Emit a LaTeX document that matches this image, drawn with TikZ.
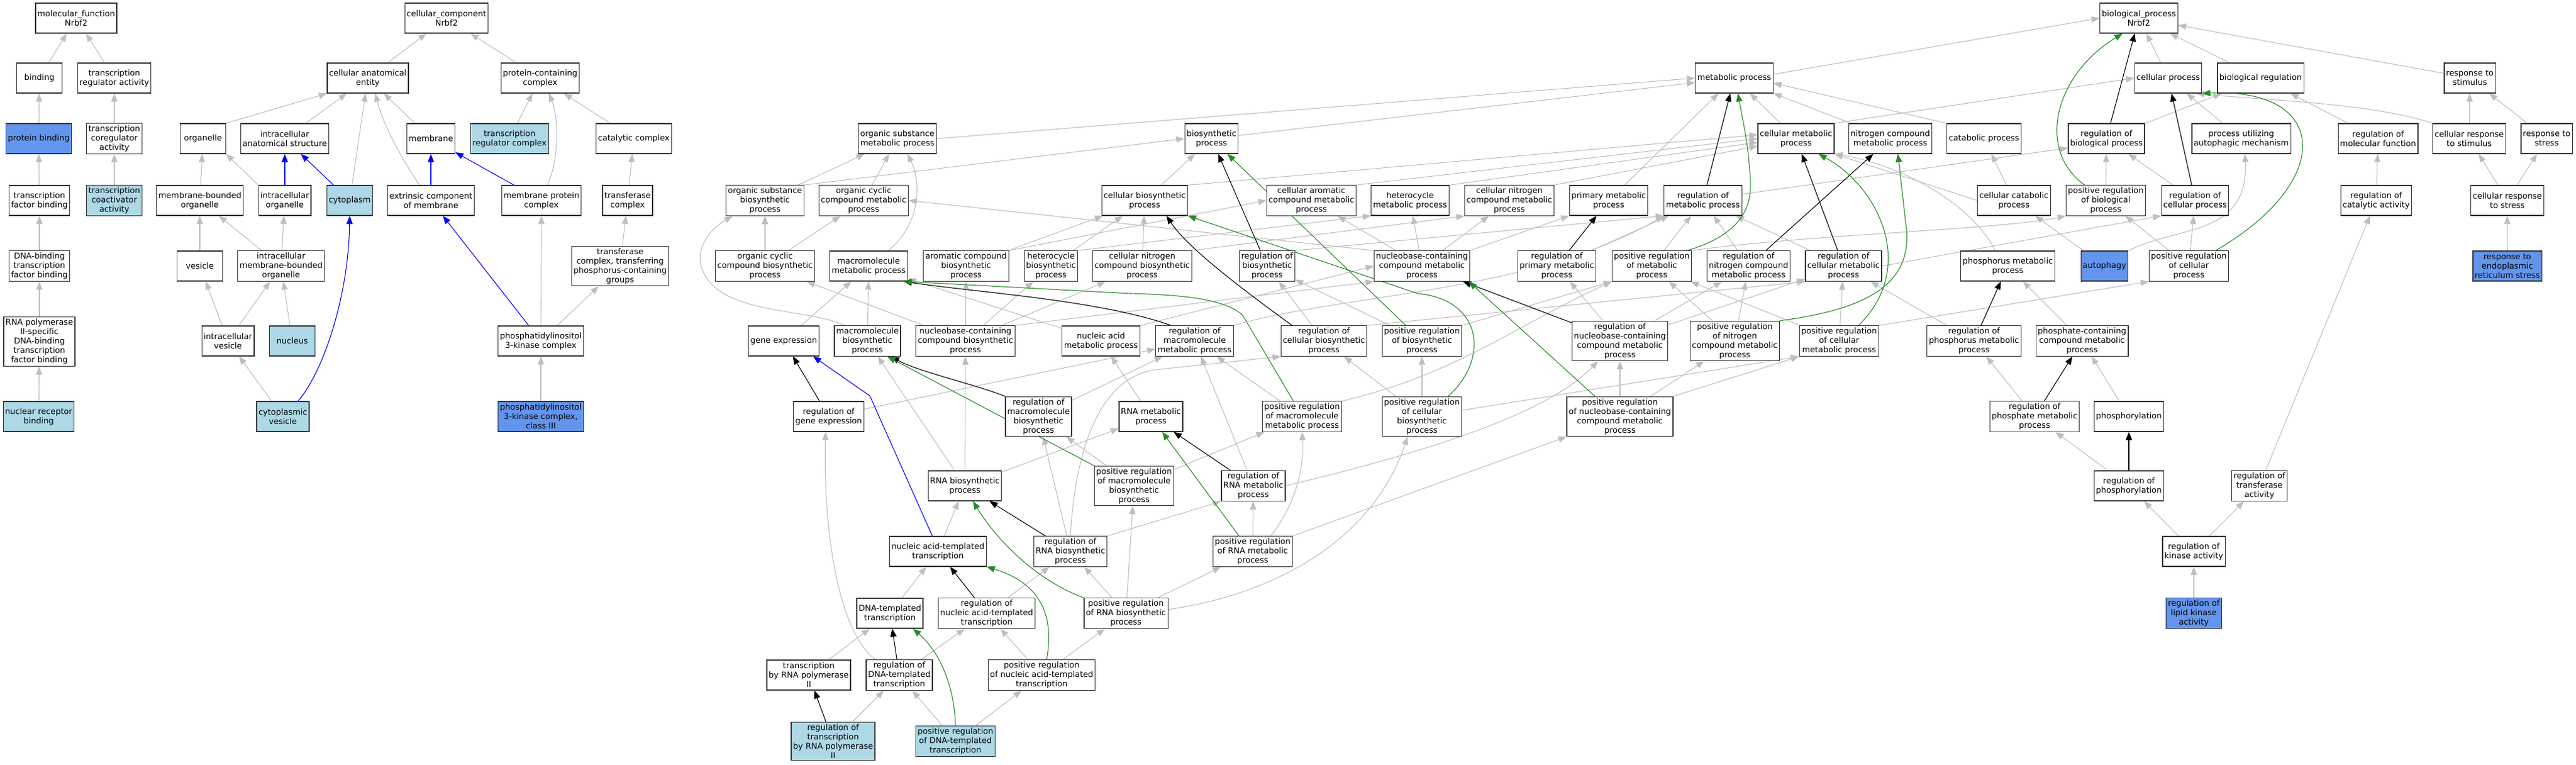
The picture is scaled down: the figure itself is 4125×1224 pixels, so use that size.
\documentclass[tikz,border=0pt]{standalone}
\usepackage{fontspec}
\setmainfont{DejaVu Sans}
\usetikzlibrary{arrows.meta}
\definecolor{gc}{HTML}{BEBEBE}
\definecolor{grc}{HTML}{228B22}
\definecolor{blc}{HTML}{0000FF}
\definecolor{lbc}{HTML}{ADD8E6}
\definecolor{cbc}{HTML}{6495ED}
\pgfdeclarelayer{bg}
\pgfsetlayers{bg,main}
\tikzset{
 gonode/.style={draw=black!80, line width=1.2pt, fill=white, align=center, inner xsep=3pt, inner ysep=3pt, minimum width=73pt, minimum height=48pt, font=\fontsize{13}{15}\selectfont},
 lbnode/.style={gonode, fill=lbc},
 cbnode/.style={gonode, fill=cbc},
 edg/.style={line width=1.1pt, -{Triangle[length=13pt,width=10pt]}},
 eg/.style={edg, draw=gc},
 ek/.style={edg, draw=black},
 egr/.style={edg, draw=grc},
 eb/.style={edg, draw=blc}
}
\begin{document}
\begin{tikzpicture}[x=1pt,y=-1pt]
\useasboundingbox (0,0) rectangle (4125,1224);
% ---------- molecular function
\node[gonode] (mf) at (122,29) {molecular\_function\\Nrbf2};
\node[gonode] (binding) at (63,125) {binding};
\node[gonode] (tra) at (183,125) {transcription\\regulator activity};
\node[cbnode] (pb) at (62,222) {protein binding};
\node[gonode] (tca) at (183,222) {transcription\\coregulator\\activity};
\node[gonode] (tfb) at (63,321) {transcription\\factor binding};
\node[lbnode] (tcoa) at (183,321) {transcription\\coactivator\\activity};
\node[gonode] (dbtfb) at (63,426) {DNA-binding\\transcription\\factor binding};
\node[gonode] (rnap2) at (63,547) {RNA polymerase\\II-specific\\DNA-binding\\transcription\\factor binding};
\node[lbnode] (nrb) at (62,667) {nuclear receptor\\binding};
% ---------- cellular component
\node[gonode] (cc) at (715,29) {cellular\_component\\Nrbf2};
\node[gonode] (cae) at (589,125) {cellular anatomical\\entity};
\node[gonode] (pcc) at (865,125) {protein-containing\\complex};
\node[gonode] (organelle) at (325,222) {organelle};
\node[gonode] (ias) at (456,222) {intracellular\\anatomical structure};
\node[gonode] (membrane) at (690,222) {membrane};
\node[lbnode] (trc) at (816,222) {transcription\\regulator complex};
\node[gonode] (catc) at (1015,222) {catalytic complex};
\node[gonode] (mbo) at (320,321) {membrane-bounded\\organelle};
\node[gonode] (io) at (456,321) {intracellular\\organelle};
\node[lbnode] (cytoplasm) at (560,321) {cytoplasm};
\node[gonode] (ecm) at (690,321) {extrinsic component\\of membrane};
\node[gonode] (mpc) at (867,321) {membrane protein\\complex};
\node[gonode] (tfc) at (1005,321) {transferase\\complex};
\node[gonode] (vesicle) at (320,426) {vesicle};
\node[gonode] (imbo) at (450,426) {intracellular\\membrane-bounded\\organelle};
\node[gonode] (tfcp) at (993,426) {transferase\\complex, transferring\\phosphorus-containing\\groups};
\node[gonode] (iv) at (365,546) {intracellular\\vesicle};
\node[lbnode] (nucleus) at (468,546) {nucleus};
\node[gonode] (pi3k) at (866,546) {phosphatidylinositol\\3-kinase complex};
\node[lbnode] (cv) at (453,667) {cytoplasmic\\vesicle};
\node[cbnode] (pi3k3) at (866,667) {phosphatidylinositol\\3-kinase complex,\\class III};
% ---------- biological process
\node[gonode] (bp) at (3425,29) {biological\_process\\Nrbf2};
\node[gonode] (mp) at (2777,125) {metabolic process};
\node[gonode] (cp) at (3472,125) {cellular process};
\node[gonode] (br) at (3620,125) {biological regulation};
\node[gonode] (rts) at (3955,125) {response to\\stimulus};
\node[gonode] (osmp) at (1437,222) {organic substance\\metabolic process};
\node[gonode] (bsp) at (1940,222) {biosynthetic\\process};
\node[gonode] (cmp) at (2876,222) {cellular metabolic\\process};
\node[gonode] (ncmp) at (3027,222) {nitrogen compound\\metabolic process};
\node[gonode] (catp) at (3177,222) {catabolic process};
\node[gonode] (rbp) at (3373,222) {regulation of\\biological process};
\node[gonode] (puam) at (3589,222) {process utilizing\\autophagic mechanism};
\node[gonode] (rmf) at (3808,222) {regulation of\\molecular function};
\node[gonode] (crs) at (3954,222) {cellular response\\to stimulus};
\node[gonode] (rtst) at (4078,222) {response to\\stress};
\node[gonode] (osbp) at (1225,321) {organic substance\\biosynthetic\\process};
\node[gonode] (occmp) at (1383,321) {organic cyclic\\compound metabolic\\process};
\node[gonode] (cbp) at (1833,321) {cellular biosynthetic\\process};
\node[gonode] (cacmp) at (2100,321) {cellular aromatic\\compound metabolic\\process};
\node[gonode] (hmp) at (2258,321) {heterocycle\\metabolic process};
\node[gonode] (cncmp) at (2417,321) {cellular nitrogen\\compound metabolic\\process};
\node[gonode] (pmp) at (2576,321) {primary metabolic\\process};
\node[gonode] (rmp) at (2727,321) {regulation of\\metabolic process};
\node[gonode] (ccatp) at (3225,321) {cellular catabolic\\process};
\node[gonode] (prbp) at (3372,321) {positive regulation\\of biological\\process};
\node[gonode] (rcp) at (3515,321) {regulation of\\cellular process};
\node[gonode] (rca) at (3805,321) {regulation of\\catalytic activity};
\node[gonode] (crst) at (4015,321) {cellular response\\to stress};
\node[gonode] (occbp) at (1225,426) {organic cyclic\\compound biosynthetic\\process};
\node[gonode] (mmp) at (1391,426) {macromolecule\\metabolic process};
\node[gonode] (acbp) at (1547,426) {aromatic compound\\biosynthetic\\process};
\node[gonode] (hbp) at (1683,426) {heterocycle\\biosynthetic\\process};
\node[gonode] (cncbp) at (1829,426) {cellular nitrogen\\compound biosynthetic\\process};
\node[gonode] (rbsp) at (2029,426) {regulation of\\biosynthetic\\process};
\node[gonode] (ncbmp) at (2277,426) {nucleobase-containing\\compound metabolic\\process};
\node[gonode] (rpmp) at (2493,426) {regulation of\\primary metabolic\\process};
\node[gonode] (prmp) at (2645,426) {positive regulation\\of metabolic\\process};
\node[gonode] (rncmp) at (2800,426) {regulation of\\nitrogen compound\\metabolic process};
\node[gonode] (rcmp) at (2952,426) {regulation of\\cellular metabolic\\process};
\node[gonode] (phmp) at (3215,426) {phosphorus metabolic\\process};
\node[cbnode] (autophagy) at (3370,426) {autophagy};
\node[gonode] (prcp) at (3505,426) {positive regulation\\of cellular\\process};
\node[cbnode] (rers) at (4015,426) {response to\\endoplasmic\\reticulum stress};
\node[gonode] (ge) at (1255,546) {gene expression};
\node[gonode] (mbsp) at (1389,546) {macromolecule\\biosynthetic\\process};
\node[gonode] (ncbbp) at (1546,546) {nucleobase-containing\\compound biosynthetic\\process};
\node[gonode] (namp) at (1763,546) {nucleic acid\\metabolic process};
\node[gonode] (rmmp) at (1913,546) {regulation of\\macromolecule\\metabolic process};
\node[gonode] (rcbp) at (2120,546) {regulation of\\cellular biosynthetic\\process};
\node[gonode] (prbsp) at (2277,546) {positive regulation\\of biosynthetic\\process};
\node[gonode] (rncbmp) at (2594,546) {regulation of\\nucleobase-containing\\compound metabolic\\process};
\node[gonode] (prncmp) at (2778,546) {positive regulation\\of nitrogen\\compound metabolic\\process};
\node[gonode] (prcmp) at (2945,546) {positive regulation\\of cellular\\metabolic process};
\node[gonode] (rphmp) at (3161,546) {regulation of\\phosphorus metabolic\\process};
\node[gonode] (phcmp) at (3334,546) {phosphate-containing\\compound metabolic\\process};
\node[gonode] (rge) at (1327,667) {regulation of\\gene expression};
\node[gonode] (rmbsp) at (1663,667) {regulation of\\macromolecule\\biosynthetic\\process};
\node[gonode] (rnamp) at (1843,667) {RNA metabolic\\process};
\node[gonode] (prmmp) at (2085,667) {positive regulation\\of macromolecule\\metabolic process};
\node[gonode] (prcbp) at (2277,667) {positive regulation\\of cellular\\biosynthetic\\process};
\node[gonode] (prncbmp) at (2594,667) {positive regulation\\of nucleobase-containing\\compound metabolic\\process};
\node[gonode] (rphosm) at (3258,667) {regulation of\\phosphate metabolic\\process};
\node[gonode] (phos) at (3409,667) {phosphorylation};
\node[gonode] (rnabp) at (1545,778) {RNA biosynthetic\\process};
\node[gonode] (prmbsp) at (1816,778) {positive regulation\\of macromolecule\\biosynthetic\\process};
\node[gonode] (rrnamp) at (2007,778) {regulation of\\RNA metabolic\\process};
\node[gonode] (rphosp) at (3409,778) {regulation of\\phosphorylation};
\node[gonode] (rta) at (3618,778) {regulation of\\transferase\\activity};
\node[gonode] (natt) at (1502,883) {nucleic acid-templated\\transcription};
\node[gonode] (rrnabp) at (1714,883) {regulation of\\RNA biosynthetic\\process};
\node[gonode] (prrnamp) at (2006,883) {positive regulation\\of RNA metabolic\\process};
\node[gonode] (rka) at (3513,883) {regulation of\\kinase activity};
\node[gonode] (dtt) at (1425,982) {DNA-templated\\transcription};
\node[gonode] (rnatt) at (1580,982) {regulation of\\nucleic acid-templated\\transcription};
\node[gonode] (prrnabp) at (1803,982) {positive regulation\\of RNA biosynthetic\\process};
\node[cbnode] (rlka) at (3513,982) {regulation of\\lipid kinase\\activity};
\node[gonode] (trnap) at (1295,1081) {transcription\\by RNA polymerase\\II};
\node[gonode] (rdtt) at (1440,1081) {regulation of\\DNA-templated\\transcription};
\node[gonode] (prnatt) at (1668,1081) {positive regulation\\of nucleic acid-templated\\transcription};
\node[lbnode] (rtrnap) at (1334,1187) {regulation of\\transcription\\by RNA polymerase\\II};
\node[lbnode] (prdtt) at (1530,1187) {positive regulation\\of DNA-templated\\transcription};

\begin{pgfonlayer}{bg}
% gray straight edges
\foreach \a/\b in {binding/mf, tra/mf, pb/binding, tca/tra, tfb/pb, tcoa/tca, dbtfb/tfb, rnap2/dbtfb, nrb/rnap2,
 cae/cc, pcc/cc, ias/cae, cytoplasm/cae, membrane/cae, trc/pcc, catc/pcc, mbo/organelle, tfc/catc, vesicle/mbo, imbo/mbo, imbo/io, iv/vesicle, iv/imbo, nucleus/imbo, cv/iv, pi3k/mpc, pi3k/tfcp, tfcp/tfc, pi3k3/pi3k,
 cp/bp, br/bp, rts/bp, bsp/mp, cmp/mp, ncmp/mp, pmp/mp, puam/cp, rbp/br, rmf/br, crs/rts, rtst/rts, osbp/osmp, occmp/osmp, cbp/bsp, prbp/rbp, rcp/rbp, rca/rmf, crst/crs, crst/rtst, ccatp/catp,
 occbp/osbp, occbp/occmp, acbp/cbp, hbp/cbp, cncbp/cbp, ncbmp/cacmp, ncbmp/hmp, ncbmp/cncmp, rpmp/rmp, prmp/rmp, rncmp/rmp, rcmp/rmp, autophagy/ccatp, prcp/rcp, prcp/prbp, rers/crst,
 ge/mmp, mbsp/mmp, ncbbp/occbp, ncbbp/acbp, ncbbp/hbp, ncbbp/cncbp, namp/mmp, rcbp/rbsp, prbsp/rbsp, rncbmp/rpmp, rncbmp/rncmp, rncbmp/rcmp, prncmp/prmp, prncmp/rncmp, prcmp/prmp, prcmp/rcmp, rphmp/rcmp, phcmp/phmp,
 rge/rmmp, rmbsp/rmmp, rnamp/namp, prmmp/rmmp, prcbp/rcbp, prcbp/prbsp, prncbmp/rncbmp, prncbmp/prncmp, rphosm/rphmp, phos/phcmp,
 rnabp/ncbbp, rnabp/mbsp, rnabp/rnamp, prmbsp/rmbsp, prmbsp/prmmp, rrnamp/rmmp, rphosp/rphosm, rta/rca,
 natt/rnabp, rrnabp/rmbsp, prrnamp/rrnamp, rka/rphosp, rka/rta, dtt/natt, rnatt/rrnabp, prrnabp/rrnabp, prrnabp/prmbsp, prrnabp/prrnamp, rlka/rka,
 trnap/dtt, rdtt/rnatt, prnatt/rnatt, prnatt/prrnabp, rtrnap/rdtt, prdtt/rdtt, prdtt/prnatt}
 \draw[eg] (\a) -- (\b);
% gray anchored edges
\draw[eg] (organelle.north east) -- (cae.south west);
\draw[eg] (io.north west) -- (organelle.south east);
\draw[eg] (osmp.east) -- (mp.west);
\draw[eg] ([yshift=6pt]mp.east) -- (bp.west);
\draw[eg] (osbp.north east) -- (bsp.west);
\draw[eg] (cbp.north east) -- ([yshift=6pt]cmp.west);
\draw[eg] (cacmp.north east) -- (cmp.west);
\draw[eg] (hmp.north east) -- ([yshift=-6pt]cmp.west);
\draw[eg] (cncmp.north east) -- ([yshift=-12pt]cmp.west);
\draw[eg] (cmp.north east) -- (cp.west);
\draw[eg] (catp.north west) -- ([yshift=-8pt]mp.east);
\draw[eg] ([yshift=10pt]rmp.east) -- ([yshift=-15pt]rbp.west);
\draw[eg] (ccatp.west) -- (cmp.south east);
\draw[eg] (acbp.north east) -- (cacmp.west);
\draw[eg] (hbp.north east) -- (hmp.south west);
\draw[eg] (cncbp.north east) -- (cncmp.south west);
\draw[eg] (ncbmp.north west) -- (occmp.east);
\draw[eg] (ncbmp.north east) -- (pmp.south west);
\draw[eg] (rbsp.north east) -- (rmp.south west);
\draw[eg] (rcmp.east) -- (rcp.south west);
\draw[eg] (prcmp.north east) -- (prcp.south west);
\draw[eg] (namp.north east) -- (ncbmp.west);
\draw[eg] (ncbbp.north east) -- (ncbmp.south west);
\draw[eg] (rcbp.north east) -- (rcmp.south west);
\draw[eg] (prbsp.north east) -- (prmp.south west);
\draw[eg] ([yshift=10pt]prcbp.east) -- (prcmp.south west);
\draw[eg] (prncbmp.north east) -- (prcmp.south west);
\draw[eg] (prrnamp.north east) -- (prncbmp.south west);
\draw[eg] (rrnabp.north east) -- (rrnamp.south west);
% gray curves
\draw[eg] ([xshift=-36pt]mbsp.north) .. controls (1290,492) and (1150,505) .. (1124,430) .. controls (1112,395) and (1140,365) .. ([xshift=-52pt]osbp.south);
\draw[eg] ([xshift=31pt]mmp.north) .. controls (1475,360) and (1475,290) .. ([xshift=16pt]osmp.south);
\draw[eg] (autophagy.north east) .. controls (3490,360) and (3600,380) .. ([xshift=6pt]puam.south);
\draw[eg] (crs.north west) .. controls (3800,165) and (3620,160) .. ([xshift=45pt]cp.south);
\draw[eg] ([xshift=-38pt]rdtt.north) .. controls (1345,1015) and (1318,860) .. ([xshift=-5pt]rge.south);
\draw[eg] ([xshift=-20pt]phmp.north) .. controls (3160,330) and (3050,265) .. (cmp.south east);
\draw[eg] (prmp.north east) .. controls (2900,375) and (3200,368) .. (prbp.south west);
\draw[eg] (rmmp.north east) .. controls (2150,470) and (2450,470) .. (rmp.south west);
\draw[eg] (prmmp.north east) .. controls (2330,600) and (2430,520) .. (prmp.south west);
\draw[eg] (rrnamp.east) .. controls (2300,720) and (2480,660) .. ([xshift=-35pt]rncbmp.south);
\draw[eg] ([xshift=29pt]prrnamp.north) .. controls (2080,800) and (2088,740) .. (prmmp.south);
\draw[eg] ([yshift=6pt]prrnabp.east) .. controls (2050,950) and (2200,860) .. ([xshift=-23pt]prcbp.south);
\draw[eg] (rrnabp.north) .. controls (1722,720) and (1760,605) .. (1850,592) -- (rcbp.south west);
\draw[eg] ([xshift=9pt]mpc.north) .. controls (895,260) and (895,190) .. ([xshift=14pt]pcc.south);
\draw[eg] ([xshift=-18pt]ecm.north) .. controls (640,250) and (612,195) .. ([xshift=12pt]cae.south);
% black (regulates)
\foreach \a/\b in {rmp/mp, rbp/bp, rcp/cp, rpmp/pmp, rncmp/ncmp, rcmp/cmp, rbsp/bsp, rncbmp/ncbmp, rphmp/phmp, rphosm/phcmp, rphosp/phos, rge/ge, rrnamp/rnamp, rrnabp/rnabp, rnatt/natt, rdtt/dtt, rtrnap/trnap}
 \draw[ek] (\a) -- (\b);
\draw[ek] ([xshift=-51pt]rcbp.north) .. controls (1985,460) and (1900,395) .. ([xshift=35pt]cbp.south);
\draw[ek] ([xshift=-38pt]rmmp.north) .. controls (1760,480) and (1560,468) .. ([xshift=56pt]mmp.south);
\draw[ek] (rmbsp.north west) .. controls (1560,615) and (1470,595) .. ([xshift=38pt]mbsp.south);
% green (positively regulates)
\draw[egr] (prbsp) -- (bsp);
\draw[egr] ([xshift=-40pt]prncbmp.north) -- ([xshift=75pt]ncbmp.south);
\draw[egr] (prmbsp.north west) -- ([xshift=32pt]mbsp.south);
\draw[egr] ([xshift=-22pt]prrnamp.north) -- ([xshift=18pt]rnamp.south);
\draw[egr] ([xshift=57pt]prmp.north) .. controls (2790,375) and (2805,330) .. (2803,290) .. controls (2800,230) and (2790,190) .. ([xshift=6pt]mp.south);
\draw[egr] ([xshift=-34pt]prbp.north) .. controls (3260,240) and (3290,120) .. ([xshift=-26pt]bp.south);
\draw[egr] ([xshift=43pt]prcp.north) .. controls (3740,290) and (3730,140) .. (cp.south east);
\draw[egr] (prncmp.north east) .. controls (2990,495) and (3065,455) .. (3052,360) .. controls (3045,300) and (3042,270) .. ([xshift=12pt]ncmp.south);
\draw[egr] ([xshift=31pt]prcmp.north) .. controls (3070,430) and (3010,300) .. ([xshift=36pt]cmp.south);
\draw[egr] ([xshift=42pt]prcbp.north) .. controls (2385,575) and (2375,480) .. (2270,470) -- (cbp.south east);
\draw[egr] ([xshift=-14pt]prmmp.north) -- (1990,505) .. controls (1962,478) and (1890,472) .. (1810,470) -- ([xshift=56pt]mmp.south);
\draw[egr] ([xshift=-68pt]prrnabp.north) .. controls (1650,925) and (1590,855) .. ([xshift=13pt]rnabp.south);
\draw[egr] ([xshift=8pt]prnatt.north) .. controls (1688,990) and (1670,935) .. (natt.south east);
\draw[egr] (prdtt.north) .. controls (1528,1090) and (1500,1040) .. ([xshift=37pt]dtt.south);
% blue (part of)
\foreach \a/\b in {io/ias, cytoplasm/ias, ecm/membrane, mpc/membrane, pi3k/ecm}
 \draw[eb] (\a) -- (\b);
\draw[eb] ([xshift=24pt]cv.north) .. controls (515,600) and (558,480) .. (cytoplasm.south);
\draw[eb] ([xshift=-9pt]natt.north) -- (1393,634) -- ([xshift=47pt]ge.south);
\end{pgfonlayer}
\end{tikzpicture}
\end{document}
